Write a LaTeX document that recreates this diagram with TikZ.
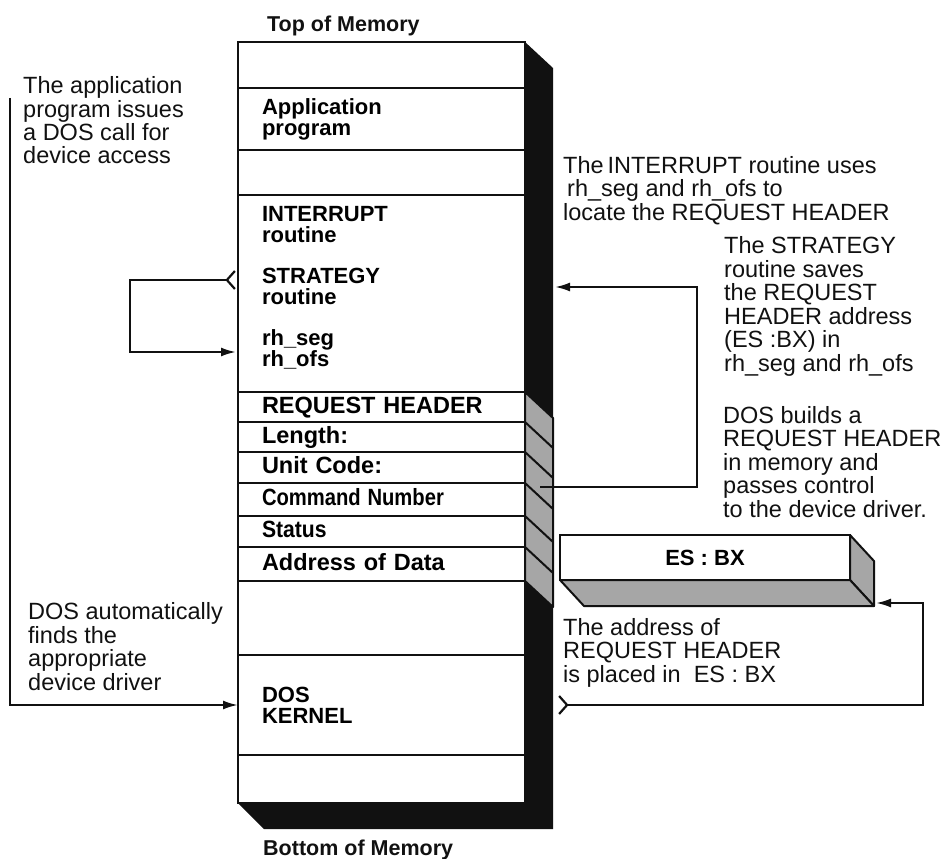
\documentclass[tikz,border=0pt]{standalone}
\usepackage{fontspec}
\setmainfont{Liberation Sans}
\usetikzlibrary{arrows.meta, positioning}
\definecolor{memInk}{HTML}{111111}
\definecolor{memShade}{HTML}{A6A6A6}

\begin{document}
\begin{tikzpicture}[x=1pt, y=-1pt,
  memrow/.style={draw=memInk, fill=white, line width=2pt, outer sep=0pt, minimum width=287pt, text width=239pt, inner xsep=24pt, inner ysep=0pt, align=left, font=\bfseries\fontsize{22}{21}\selectfont},
  reqrow/.style={memrow, text height=17pt, text depth=5pt, font=\bfseries\fontsize{23.5}{23}\selectfont},
  esbox/.style={draw=memInk, fill=white, line width=2pt, outer sep=0pt, anchor=north west, minimum width=290pt, minimum height=45pt, font=\bfseries\fontsize{22}{22}\selectfont},
  note/.style={anchor=base west, align=left, inner sep=0pt, text=memInk, font=\fontsize{23.5}{23.5}\selectfont},
  heading/.style={anchor=base west, inner sep=0pt, text=memInk, font=\bfseries\fontsize{21.5}{21}\selectfont},
  flow/.style={draw=memInk, line width=2.2pt, -{Latex[length=15pt, width=9pt]}},
  tailflow/.style={{Straight Barb[reversed, length=8pt, width=18pt]}-{Latex[length=15pt, width=9pt]}},
  side/.style={fill=memShade, draw=memInk, line width=2pt, line join=round}
]
\useasboundingbox (0,0) rectangle (946,859);

\node[memrow, minimum height=46pt, anchor=north] (toprow) at (381.5,42) {};
\node[memrow, minimum height=62pt, below=0pt of toprow] (approw) {Application\\program};
\node[memrow, minimum height=45pt, below=0pt of approw] (freerow) {};
\node[memrow, minimum height=197pt, below=0pt of freerow] (drvrow) {INTERRUPT\\routine\\[20pt]STRATEGY\\routine\\[20pt]rh\_seg\\rh\_ofs\rule[-14pt]{0pt}{1pt}};
\node[reqrow, minimum height=30pt, below=0pt of drvrow] (reqhdr) {REQUEST HEADER};
\node[reqrow, minimum height=30pt, below=0pt of reqhdr] (lenrow) {Length:};
\node[reqrow, minimum height=31pt, below=0pt of lenrow] (unitrow) {Unit Code:};
\node[reqrow, minimum height=33pt, below=0pt of unitrow] (cmdrow) {\scalebox{0.86}[1]{Command Number}};
\node[reqrow, minimum height=31pt, below=0pt of cmdrow] (statrow) {\scalebox{0.9}[1]{Status}};
\node[reqrow, minimum height=34pt, below=0pt of statrow] (addrrow) {Address of Data};
\node[memrow, minimum height=74pt, below=0pt of addrrow] (gaprow) {};
\node[memrow, minimum height=100pt, below=0pt of gaprow] (kernrow) {DOS\\KERNEL};
\node[memrow, minimum height=48pt, below=0pt of kernrow] (botrow) {};

\fill[memInk] (toprow.north east) -- ++(28,26) -- ++(0,761) -- ++(-289,0) -- (botrow.south west) -- (botrow.south east) -- cycle;
\draw[side] (reqhdr.north east) -- ++(28,26) -- ++(0,189) -- (addrrow.south east) -- cycle;
\foreach \r in {lenrow, unitrow, cmdrow, statrow, addrrow}
  \draw[memInk, line width=2pt] (\r.north east) -- ++(28,26);

\node[heading] (memtop) at (267,32) {Top of Memory};
\node[heading] (membot) at (263,855) {Bottom of Memory};

\node[esbox] (esbx) at (560,535) {ES : BX};
\draw[side] (esbx.north east) -- ++(24,26) -- ++(0,45) -- (esbx.south east) -- cycle;
\draw[side] (esbx.south west) -- ++(24,26) -- ++(290,0) -- (esbx.south east) -- cycle;

\node[note] (appnote) at (23,164) {The application\\program issues\\a DOS call for\\device access};
\node[note] (findnote) at (28,690) {DOS automatically\\finds the\\appropriate\\device driver};
\node[note] (intnote) at (563,220) {The\,INTERRUPT routine uses\\\hspace*{4pt}rh\_seg and rh\_ofs to\\locate the REQUEST HEADER};
\node[note] (stratnote) at (724,371) {The STRATEGY\\routine saves\\the REQUEST\\HEADER address\\(ES :BX) in\\rh\_seg and rh\_ofs};
\node[note] (buildnote) at (723,517) {DOS builds a\\REQUEST HEADER\\in memory and\\passes control\\to the device driver.};
\node[note] (esnote) at (563,682) {The address of\\REQUEST HEADER\\is placed in\ \ ES : BX};

\coordinate (appcall) at (10,98);
\coordinate (stratcall) at (236,280);
\coordinate (rhsave) at (236,352);
\coordinate (hdrsrc) at (540,487);
\coordinate (stratin) at (555,287);
\coordinate (kernout) at (558,705);
\coordinate (esin) at (876,603);

\draw[flow] (appcall) |- (kernrow.west);
\draw[flow, tailflow] (stratcall) -- ++(-106,0) |- (rhsave);
\draw[flow] (hdrsrc) -- ++(157,0) |- (stratin);
\draw[flow, tailflow] (kernout) -- ++(365,0) |- (esin);
\end{tikzpicture}
\end{document}
